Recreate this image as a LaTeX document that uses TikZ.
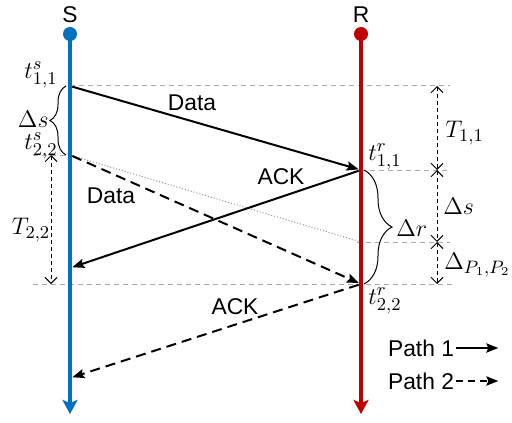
\documentclass[tikz,border=0pt]{standalone}
\usepackage[no-math]{fontspec}
\setmainfont{Liberation Sans}
\usetikzlibrary{arrows.meta,decorations.pathreplacing}
\definecolor{sblue}{RGB}{0,112,192}
\definecolor{rred}{RGB}{192,0,0}
\definecolor{guidegray}{RGB}{170,170,170}
\begin{document}
\begin{tikzpicture}[x=0.5pt,y=-0.5pt,font=\fontsize{11.4}{13.5}\selectfont,
  timeline/.style={line width=2.2pt,-{Stealth[length=7pt,width=7.5pt,inset=1.5pt]}},
  pathone/.style={line width=1pt,-{Stealth[length=6pt,width=4.6pt,inset=1pt]},shorten <=1.2pt,shorten >=1.2pt},
  pathtwo/.style={pathone,dash pattern=on 5pt off 3pt},
  guide/.style={guidegray,line width=0.5pt,dash pattern=on 2.5pt off 2pt},
  span/.style={line width=0.5pt,dash pattern=on 2pt off 1.5pt,
    {Straight Barb[length=3pt,width=6pt]}-{Straight Barb[length=3pt,width=6pt]}},
  curly/.style={decorate,decoration={brace,amplitude=#1},line width=0.5pt},
  mathlbl/.style={font=\fontsize{12.2}{14}\selectfont,inner sep=0pt}]
\useasboundingbox (0,0) rectangle (512,422);
\tikzstyle{every node}+=[inner sep=1pt]
\coordinate (stop) at (70,34);
\coordinate (sbot) at (70,414);
\coordinate (rtop) at (361,34);
\coordinate (rbot) at (361,414);
\coordinate (s11) at (70,86);
\coordinate (s22) at (70,155);
\coordinate (sa1) at (70,268);
\coordinate (sa2) at (70,378);
\coordinate (r11) at (361,170);
\coordinate (rmid) at (361,242);
\coordinate (r22) at (361,284);
\draw[guide] (s11) -- (450,86);
\draw[guide] (33,155) -- (s22);
\draw[guide] (r11) -- (450,170);
\draw[guide] (357,242) -- (450,242);
\draw[guide] (33,284) -- (455,284);
\draw[guidegray!85!black,line width=0.5pt,densely dotted] (s22) -- (rmid);
\draw[timeline,sblue] (stop) -- (sbot);
\fill[sblue] (stop) circle (7);
\draw[timeline,rred] (rtop) -- (rbot);
\fill[rred] (rtop) circle (7);
\node (S) at (70,15) {S};
\node (R) at (361,15) {R};
\draw[pathone] (s11) -- (r11);
\draw[pathone] (r11) -- (sa1);
\draw[pathtwo] (s22) -- (r22);
\draw[pathtwo] (r22) -- (sa2);
\node (data1) at (192,103) {Data};
\node (ack1) at (281,177) {ACK};
\node (data2) at (111,196) {Data};
\node (ack2) at (235,307) {ACK};
\node[mathlbl,anchor=east] (ts11) at (58,75) {$t^s_{1,1}$};
\node[mathlbl,anchor=east] (ts22) at (58,146) {$t^s_{2,2}$};
\node[mathlbl,anchor=west] (tr11) at (368,157) {$t^r_{1,1}$};
\node[mathlbl,anchor=west] (tr22) at (368,301) {$t^r_{2,2}$};
\draw[curly=8pt] (66,155) -- (66,86);
\node[mathlbl,anchor=east] (ds) at (49,119) {$\Delta s$};
\draw[curly=14pt] (364,170) -- (364,284);
\node[mathlbl,anchor=west] (dr) at (396,228) {$\Delta r$};
\draw[span] (437,86) -- (437,170);
\node[mathlbl,anchor=west] (T11) at (445,133) {$T_{1,1}$};
\draw[span] (437,170) -- (437,242);
\node[mathlbl,anchor=west] (dsr) at (443,206) {$\Delta s$};
\draw[span] (437,242) -- (437,284);
\node[mathlbl,anchor=west] (dp) at (444,265) {$\Delta_{P_1,P_2}$};
\draw[span] (51,155) -- (51,284);
\node[mathlbl] (T22) at (31,230) {$T_{2,2}$};
\node (p1) at (421,348) {Path 1};
\draw[pathone,shorten <=0pt,shorten >=0pt] (p1.east) -- ++(42,0);
\node (p2) at (421,381) {Path 2};
\draw[pathtwo,shorten <=0pt,shorten >=0pt,dash pattern=on 3.5pt off 2.5pt] (p2.east) -- ++(42,0);
\end{tikzpicture}
\end{document}
